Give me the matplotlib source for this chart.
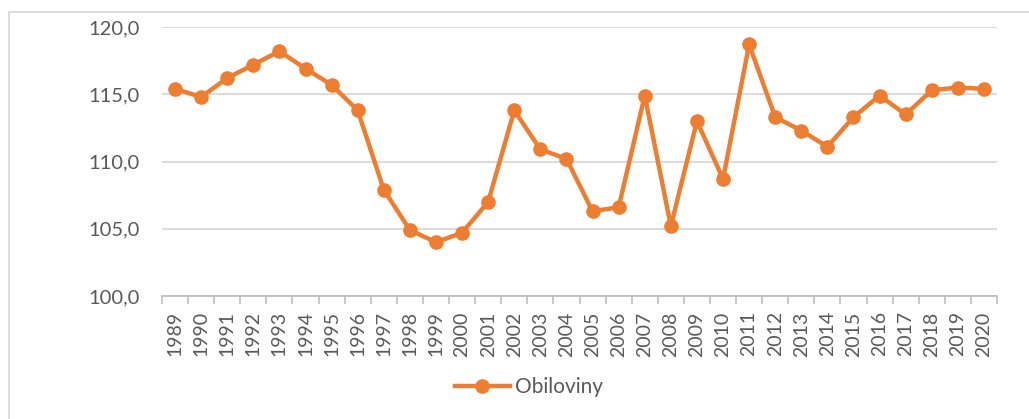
import matplotlib
matplotlib.use("Agg")
import matplotlib.pyplot as plt
from matplotlib.lines import Line2D

# data
YEARS = [str(y) for y in range(1989, 2021)]
OBILOVINY = [
    115.4, 114.8, 116.2, 117.2, 118.2, 116.9, 115.7, 113.8, 107.9, 104.9,
    104.0, 104.7, 107.0, 113.8, 110.9, 110.2, 106.3, 106.6, 114.9, 105.2,
    113.0, 108.7, 118.7, 113.3, 112.3, 111.1, 113.3, 114.9, 113.5, 115.3,
    115.5, 115.4,
]
Y_TICKS = [100, 105, 110, 115, 120]

ORANGE = "#ED7D31"
GREY_TXT = "#595959"
W, H = 1029, 419

plt.rcParams["font.family"] = ["Lato", "DejaVu Sans"]

fig = plt.figure(figsize=(W / 100, H / 100), dpi=100)
ax = fig.add_axes([162 / W, 1 - 296 / H, (997 - 162) / W, (296 - 27) / H])

# chart area border: only the left and top edges are in the picture
bx, by = 8.5 / W, 1 - 12.5 / H
fig.lines.append(Line2D([bx, bx, 1.0], [0.0, by, by], transform=fig.transFigure,
                        color="#d9d9d9", linewidth=1.3))

x = list(range(len(YEARS)))
ax.plot(x, OBILOVINY, color=ORANGE, linewidth=3.2, marker="o",
        markersize=9.5, label="Obiloviny")

ax.set_xlim(-0.5, len(YEARS) - 0.5)
ax.set_ylim(100, 120)
ax.set_yticks(Y_TICKS)
ax.set_yticklabels([f"{v:.1f}".replace(".", ",") for v in Y_TICKS])
ax.set_xticks(x)
ax.set_xticklabels(YEARS, rotation=90)
ax.set_xticks([i - 0.5 for i in range(len(YEARS) + 1)], minor=True)

ax.grid(axis="y", color="#d9d9d9", linewidth=1.3)
ax.set_axisbelow(True)
for side in ["top", "right", "left"]:
    ax.spines[side].set_visible(False)
ax.spines["bottom"].set_color("#bfbfbf")
ax.spines["bottom"].set_linewidth(1.3)

ax.tick_params(axis="y", length=0, labelsize=14.5, labelcolor=GREY_TXT, pad=16)
ax.tick_params(axis="x", which="major", length=0, labelsize=14,
               labelcolor=GREY_TXT, pad=11)
ax.tick_params(axis="x", which="minor", length=6, color="#bfbfbf", width=1.2)

ax.legend(loc="center", bbox_to_anchor=(529 / W, 1 - 387 / H),
          bbox_transform=fig.transFigure, frameon=False,
          fontsize=15, labelcolor=GREY_TXT, handlelength=2.65,
          handletextpad=0.25)

fig.savefig("out.png", dpi=100)
